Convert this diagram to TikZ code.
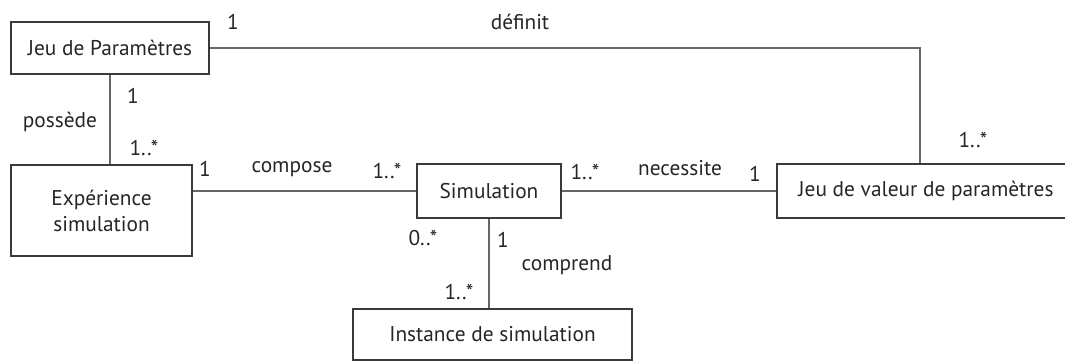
\documentclass[tikz,border=0pt]{standalone}
\usepackage{fontspec}
\setmainfont{PT Sans}
\usetikzlibrary{positioning,calc}
\definecolor{txtgray}{HTML}{262626}
\definecolor{boxgray}{HTML}{3A3A3A}
\definecolor{linegray}{HTML}{666666}

\begin{document}
\begin{tikzpicture}[x=0.75pt, y=-0.75pt,
  every node/.style={font=\fontsize{16}{19.5}\selectfont, text=txtgray, inner sep=0pt},
  box/.style={draw=boxgray, line width=1.4pt, rectangle, align=center, fill=white},
  lbl/.style={draw=none},
  assoc/.style={draw=linegray, line width=1.5pt}]
\clip (0,0) rectangle (1065,362);
\fill[white] (0,0) rectangle (1065,362);
% classes
\node (jp) [box, minimum width=148.5pt, minimum height=39pt] at (110,48) {Jeu de Paramètres};
\node (exp) [box, minimum width=135.75pt, minimum height=68.25pt] at (101.5,210.5) {Expérience\\simulation};
\node (sim) [box, minimum width=108pt, minimum height=40.5pt] at (489,191) {Simulation};
\node (jv) [box, minimum width=223.5pt, minimum height=40.5pt] at (926,191) {Jeu de valeur de paramètres};
\node (inst) [box, minimum width=209.25pt, minimum height=38.25pt] at (492.5,334.5) {Instance de simulation};
\coordinate (bend) at (920,48);
% associations
\draw[assoc] (jp.east) -- (bend) -- (bend |- jv.north);
\draw[assoc] (jp.south) -- (jp.south |- exp.north);
\draw[assoc] (exp.east |- sim.west) -- (sim.west);
\draw[assoc] (sim.east) -- (jv.west);
\draw[assoc] (sim.south) -- (sim.south |- inst.north);
% labels
\node (m1) [lbl] at (233,22) {1};
\node (def) [lbl] at (520,22) {définit};
\node (m2) [lbl] at (133,96) {1};
\node (pos) [lbl] at (60,122) {possède};
\node (m3) [lbl] at (144,148) {1..*};
\node (m4) [lbl] at (205,169) {1};
\node (comp) [lbl] at (292,169) {compose};
\node (m5) [lbl] at (387,171) {1..*};
\node (m6) [lbl] at (585,172) {1..*};
\node (nec) [lbl] at (680,168) {necessite};
\node (m7) [lbl] at (755,174) {1};
\node (m8) [lbl] at (973,140) {1..*};
\node (m9) [lbl] at (423,238) {0..*};
\node (m10) [lbl] at (503,240) {1};
\node (compr) [lbl] at (567,265) {comprend};
\node (m11) [lbl] at (459,292) {1..*};
\end{tikzpicture}
\end{document}
